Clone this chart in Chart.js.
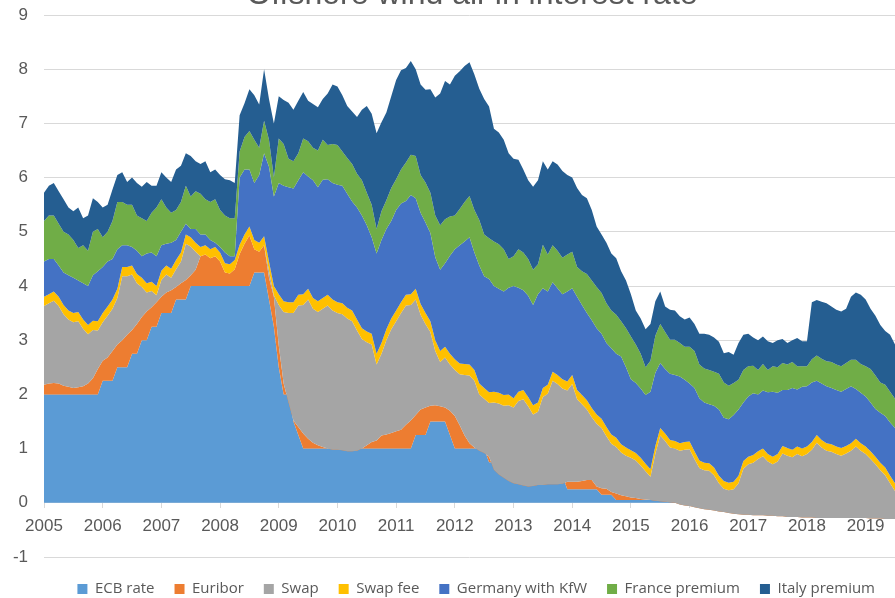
<!DOCTYPE html>
<html>
<head>
<meta charset="utf-8">
<script src="https://cdn.jsdelivr.net/npm/chart.js@4.4.1/dist/chart.umd.min.js"></script>
<style>
html,body{margin:0;padding:0;background:#fff;}
#wrap{width:895px;height:598px;position:relative;overflow:hidden;}
</style>
</head>
<body>
<div id="wrap"><canvas id="c" width="895" height="598"></canvas></div>
<script>
const chartTitle = 'Offshore wind all-in interest rate';
const startYear = 2005;
const yearTicks = [2005,2006,2007,2008,2009,2010,2011,2012,2013,2014,2015,2016,2017,2018,2019];
const seriesNames = ['ECB rate','Euribor','Swap','Swap fee','Germany with KfW','France premium','Italy premium'];

// monthly values, Jan 2005 .. Jul 2019
const ecbRate = [
2,2,2,2,2,2,2,2,2,2,2,2,
2.25,2.25,2.25,2.5,2.5,2.5,2.75,2.75,3,3,3.25,3.25,
3.5,3.5,3.5,3.75,3.75,3.75,4,4,4,4,4,4,
4,4,4,4,4,4,4,4.25,4.25,4.25,3.75,3.25,
2.5,2,2,1.5,1.25,1,1,1,1,1,1,1,
1,1,1,1,1,1,1,1,1,1,1,1,
1,1,1,1,1.25,1.25,1.25,1.5,1.5,1.5,1.5,1.25,
1,1,1,1,1,1,1,0.75,0.75,0.75,0.75,0.75,
0.75,0.75,0.75,0.75,0.75,0.5,0.5,0.5,0.5,0.5,0.5,0.25,
0.25,0.25,0.25,0.25,0.25,0.25,0.15,0.15,0.15,0.05,0.05,0.05,
0.05,0.05,0.05,0.05,0.05,0.05,0.05,0.05,0.05,0.05,0.05,0.05,
0.05,0.05,0.05,0,0,0,0,0,0,0,0,0,
0,0,0,0,0,0,0,0,0,0,0,0,
0,0,0,0,0,0,0,0,0,0,0,0,
0,0,0,0,0,0,0
];
const euribor = [
0.18,0.2,0.21,0.2,0.16,0.14,0.12,0.13,0.15,0.2,0.3,0.47,
0.37,0.43,0.55,0.42,0.5,0.6,0.44,0.55,0.43,0.53,0.36,0.45,
0.3,0.38,0.42,0.23,0.3,0.36,0.2,0.3,0.55,0.58,0.51,0.55,
0.45,0.25,0.23,0.31,0.59,0.78,0.93,0.43,0.38,0.5,0.4,0.55,
0.4,0.2,-0.15,0.02,0.15,0.28,0.18,0.11,0.06,0.03,0,-0.02,
-0.02,-0.03,-0.05,-0.05,-0.04,0,0.06,0.12,0.15,0.24,0.26,0.29,
0.32,0.35,0.44,0.52,0.37,0.47,0.51,0.29,0.3,0.28,0.26,0.45,
0.6,0.43,0.24,0.1,0.02,-0.04,-0.08,0.1,-0.14,-0.23,-0.29,-0.35,
-0.39,-0.41,-0.43,-0.45,-0.44,-0.17,-0.17,-0.16,-0.16,-0.16,-0.15,0.14,
0.14,0.14,0.15,0.17,0.17,0.05,0.12,0.11,0.05,0.12,0.09,0.07,
0.05,0.04,0.02,0.01,0,-0.01,-0.02,-0.03,-0.04,-0.05,-0.08,-0.1,
-0.11,-0.13,-0.15,-0.12,-0.13,-0.14,-0.16,-0.17,-0.19,-0.2,-0.21,-0.22,
-0.22,-0.23,-0.23,-0.23,-0.24,-0.24,-0.25,-0.25,-0.26,-0.26,-0.26,-0.27,
-0.27,-0.27,-0.28,-0.28,-0.28,-0.28,-0.28,-0.28,-0.28,-0.28,-0.28,-0.28,
-0.28,-0.29,-0.29,-0.29,-0.3,-0.3,-0.3
];
const swap = [
1.45,1.48,1.52,1.43,1.32,1.24,1.21,1.22,1.06,0.91,0.89,0.71,
0.71,0.77,0.78,0.86,1.18,1.08,1.02,0.75,0.55,0.35,0.3,0.13,
0.31,0.33,0.23,0.33,0.4,0.67,0.53,0.33,0,0,0,0,
0,0,0,0,0,0,0,0,0,0,0.13,0.03,
0.75,1.32,1.65,1.98,2.24,2.37,2.57,2.47,2.46,2.55,2.64,2.57,
2.52,2.51,2.45,2.4,2.22,2.02,1.9,1.8,1.4,1.51,1.74,1.91,
2.03,2.15,2.2,2.13,2.13,1.75,1.54,1.36,1,0.82,0.92,0.85,
0.85,0.94,1.12,1.25,1.23,1.04,1,0.99,1.24,1.31,1.33,1.4,
1.4,1.54,1.59,1.48,1.32,1.35,1.62,1.67,1.91,1.85,1.76,1.68,
1.8,1.52,1.42,1.3,1.16,1.16,1.11,0.97,0.89,0.86,0.79,0.75,
0.73,0.69,0.62,0.52,0.43,0.87,1.21,1.12,1.01,1,0.99,1.03,
1.05,0.89,0.74,0.72,0.72,0.65,0.52,0.43,0.42,0.45,0.57,0.85,
0.93,0.97,1.04,1.09,1,0.95,1.01,1.16,1.13,1.1,1.16,1.13,
1.17,1.25,1.39,1.3,1.24,1.22,1.18,1.15,1.19,1.24,1.32,1.24,
1.18,1.1,1,0.89,0.81,0.66,0.52
];
const swapFee = [
0.17,0.17,0.17,0.17,0.17,0.17,0.17,0.17,0.17,0.17,0.17,0.17,
0.17,0.17,0.17,0.17,0.17,0.17,0.17,0.17,0.17,0.17,0.17,0.17,
0.17,0.17,0.17,0.17,0.17,0.17,0.17,0.17,0.17,0.17,0.17,0.17,
0.17,0.17,0.17,0.17,0.17,0.17,0.17,0.17,0.17,0.17,0.17,0.17,
0.2,0.2,0.2,0.2,0.2,0.2,0.2,0.2,0.2,0.2,0.2,0.2,
0.2,0.2,0.2,0.2,0.2,0.2,0.2,0.2,0.2,0.2,0.2,0.2,
0.2,0.2,0.2,0.2,0.2,0.2,0.2,0.2,0.2,0.2,0.2,0.2,
0.2,0.2,0.2,0.2,0.2,0.2,0.2,0.2,0.2,0.2,0.2,0.2,
0.17,0.17,0.17,0.17,0.17,0.17,0.17,0.17,0.17,0.17,0.17,0.17,
0.17,0.17,0.17,0.17,0.17,0.17,0.17,0.17,0.17,0.17,0.15,0.15,
0.14,0.14,0.14,0.14,0.14,0.14,0.14,0.14,0.14,0.14,0.14,0.14,
0.14,0.14,0.14,0.14,0.14,0.14,0.14,0.14,0.14,0.14,0.14,0.14,
0.14,0.14,0.14,0.14,0.14,0.14,0.14,0.14,0.14,0.14,0.14,0.14,
0.14,0.14,0.14,0.14,0.14,0.14,0.14,0.14,0.14,0.14,0.14,0.14,
0.14,0.14,0.14,0.14,0.14,0.14,0.14
];
const germanyKfW = [
0.65,0.65,0.6,0.58,0.6,0.65,0.65,0.58,0.67,0.72,0.84,0.92,
0.85,0.83,0.75,0.73,0.4,0.4,0.34,0.43,0.4,0.55,0.54,0.55,
0.47,0.4,0.48,0.37,0.38,0.2,0.15,0.25,0.23,0.2,0.17,0.08,
0.1,0.2,0.15,0.07,1.24,1.2,1.05,1.05,1.25,1.53,1.75,1.65,
2.05,2.13,2.12,2.1,2.11,2.25,2.07,2.17,2.1,2.18,2.13,2.15,
2.17,2.17,2.1,2.01,2.07,2.08,1.96,1.78,1.85,1.9,1.85,1.8,
1.85,1.82,1.73,1.83,1.67,1.68,1.67,1.63,1.53,1.5,1.54,1.81,
2.03,2.18,2.26,2.35,2.17,2.18,2.06,2.09,1.95,1.92,1.91,1.97,
2.07,1.92,1.84,1.87,1.85,2,1.84,1.72,1.65,1.6,1.57,1.66,
1.6,1.72,1.66,1.61,1.62,1.59,1.57,1.55,1.59,1.55,1.62,1.48,
1.31,1.29,1.28,1.27,1.43,1.35,1.2,1.19,1.22,1.22,1.23,1.15,
1.07,1.17,1.15,1.11,1.09,1.14,1.22,1.17,1.17,1.23,1.22,1.08,
1.11,1.14,1.05,1.07,1.14,1.2,1.13,1.03,1.07,1.14,1.05,1.14,
1.11,1.1,1,1.04,1.05,1.04,1.04,1.04,1.05,1.05,0.92,0.93,
0.92,0.9,0.88,0.92,0.95,0.98,1.02
];
const francePremium = [
0.75,0.8,0.8,0.77,0.75,0.75,0.7,0.6,0.7,0.65,0.8,0.78,
0.55,0.55,0.7,0.87,0.8,0.75,0.78,0.65,0.7,0.6,0.73,0.9,
0.85,0.67,0.55,0.55,0.55,0.7,0.6,0.7,0.75,0.65,0.7,0.8,
0.68,0.68,0.7,0.7,0.48,0.6,0.71,0.8,0.5,0.6,0.5,0.35,
0.82,0.77,0.53,0.5,0.5,0.62,0.65,0.6,0.68,0.74,0.63,0.72,
0.73,0.63,0.66,0.69,0.62,0.65,0.6,0.6,0.45,0.53,0.53,0.61,
0.57,0.63,0.71,0.74,0.78,0.7,0.74,0.74,0.77,0.82,0.81,0.72,
0.62,0.67,0.73,0.76,0.78,0.84,0.77,0.75,0.82,0.82,0.78,0.53,
0.55,0.71,0.7,0.68,0.65,0.55,0.8,0.68,0.68,0.69,0.67,0.68,
0.67,0.55,0.62,0.72,0.73,0.76,0.75,0.73,0.7,0.72,0.65,0.72,
0.79,0.71,0.64,0.51,0.57,0.68,0.72,0.68,0.63,0.65,0.62,0.61,
0.68,0.68,0.62,0.63,0.63,0.63,0.66,0.65,0.62,0.59,0.55,0.6,
0.56,0.51,0.45,0.49,0.41,0.47,0.47,0.5,0.47,0.48,0.43,0.38,
0.37,0.43,0.47,0.46,0.46,0.48,0.47,0.47,0.48,0.49,0.54,0.53,
0.56,0.62,0.62,0.56,0.58,0.57,0.54
];
const italyPremium = [
0.52,0.55,0.6,0.6,0.6,0.5,0.53,0.75,0.5,0.65,0.62,0.5,
0.55,0.5,0.58,0.5,0.55,0.42,0.5,0.6,0.58,0.72,0.5,0.4,
0.5,0.55,0.57,0.75,0.67,0.6,0.75,0.55,0.55,0.7,0.55,0.55,
0.65,0.67,0.7,0.65,0.67,0.62,0.77,0.82,0.8,0.95,0.75,1,
0.78,0.81,1.03,0.95,0.97,0.86,0.75,0.81,0.8,0.75,0.95,1.1,
1.08,1.04,0.96,0.97,1.05,1.3,1.6,1.68,1.77,1.64,1.62,1.69,
1.83,1.83,1.74,1.73,1.6,1.67,1.71,1.91,2.18,2.43,2.55,2.44,
2.58,2.54,2.51,2.47,2.5,2.42,2.5,2.43,2.08,2.06,2.02,1.95,
1.8,1.65,1.53,1.45,1.53,1.55,1.54,1.57,1.55,1.59,1.6,1.47,
1.37,1.46,1.41,1.4,1.3,1.12,1.08,1.12,1.05,1.04,0.92,0.88,
0.78,0.63,0.65,0.7,0.68,0.64,0.6,0.47,0.55,0.54,0.49,0.5,
0.54,0.5,0.57,0.64,0.65,0.63,0.59,0.54,0.62,0.52,0.68,0.65,
0.6,0.52,0.55,0.51,0.53,0.43,0.5,0.44,0.4,0.4,0.52,0.46,
0.46,1.05,1.02,1.05,1.07,1.02,1.01,1.01,1,1.16,1.24,1.28,
1.23,1.11,1.1,1.06,0.99,1.05,1
];

const seriesValues = [ecbRate, euribor, swap, swapFee, germanyKfW, francePremium, italyPremium];
const seriesColors = ['#5B9BD5','#ED7D31','#A5A5A5','#FFC000','#4472C4','#70AD47','#255E91'];
const months = ecbRate.map((_, i) => startYear + i / 12);

// cumulative table for the stacked-area look (Excel order: later series painted over earlier ones)
let running = months.map(() => 0);
const datasets = seriesValues.map((vals, k) => {
  running = running.map((r, i) => r + vals[i]);
  return {
    label: seriesNames[k],
    data: months.map((m, i) => ({x: m, y: Math.round(running[i] * 10000) / 10000})),
    backgroundColor: seriesColors[k],
    borderColor: 'rgba(0,0,0,0)',
    borderWidth: 0,
    pointRadius: 0,
    pointHoverRadius: 0,
    tension: 0,
    fill: k === 0 ? 'origin' : '-1',
    order: seriesValues.length - 1 - k
  };
});

const cutTitle = {
  id: 'cutTitle',
  afterDraw(chart) {
    const ctx = chart.ctx;
    ctx.save();
    ctx.font = '32px "Liberation Sans", Arial, sans-serif';
    ctx.fillStyle = '#595959';
    ctx.textAlign = 'center';
    ctx.textBaseline = 'alphabetic';
    ctx.fillText(chartTitle, 472, 4);
    ctx.restore();
  }
};

const axisFont = {family: '"Liberation Sans", Arial, sans-serif', size: 17};

new Chart(document.getElementById('c'), {
  type: 'line',
  data: {datasets},
  plugins: [cutTitle],
  options: {
    responsive: false,
    animation: false,
    devicePixelRatio: 1,
    layout: {padding: {left: 0, top: 15, right: 0, bottom: 0}},
    plugins: {
      tooltip: {enabled: false},
      title: {display: false},
      legend: {
        position: 'bottom',
        align: 'end',
        maxHeight: 41,
        title: {display: true, text: '', font: {size: 1}, padding: {top: 0, bottom: 3.3}},
        labels: {
          boxWidth: 10,
          boxHeight: 10,
          padding: 20,
          color: '#595959',
          font: {family: '"Open Sans", sans-serif', size: 15},
          sort: (a, b) => a.datasetIndex - b.datasetIndex
        }
      }
    },
    scales: {
      x: {
        type: 'linear',
        position: {y: 0},
        min: 2005,
        max: 2019.5,
        z: 1,
        grid: {drawOnChartArea: false, drawTicks: true, tickLength: 5, color: '#d9d9d9'},
        border: {display: true, color: '#d9d9d9', width: 1},
        ticks: {
          stepSize: 1,
          includeBounds: false,
          autoSkip: false,
          maxRotation: 0,
          padding: 8,
          color: '#595959',
          font: axisFont,
          callback: v => yearTicks.includes(v) ? String(v) : ''
        }
      },
      y: {
        min: -1,
        max: 9,
        afterFit: s => { s.width = 44; s.paddingTop = 0; s.paddingBottom = 0; },
        grid: {color: '#d9d9d9', drawTicks: false},
        border: {display: false},
        ticks: {stepSize: 1, padding: 16, color: '#595959', font: axisFont}
      }
    }
  }
});
</script>
</body>
</html>
